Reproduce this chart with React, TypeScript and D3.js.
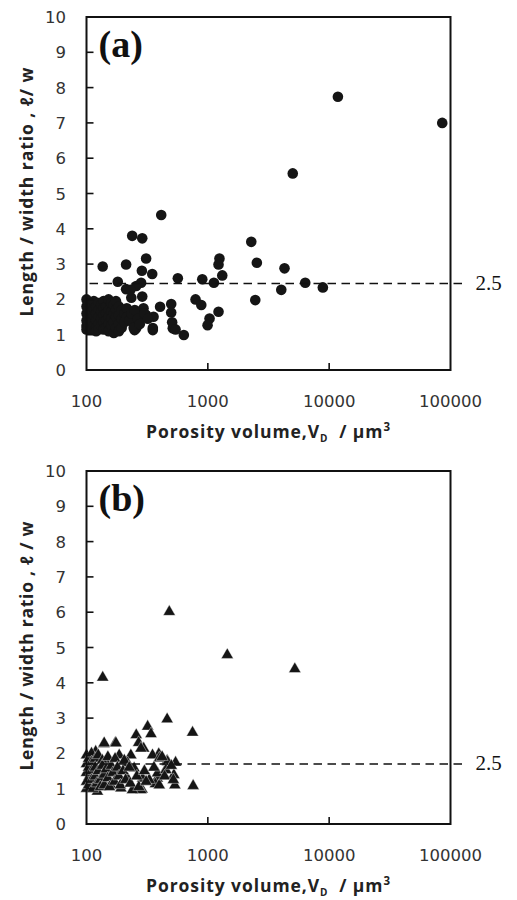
import React from "react";
import * as d3 from "d3";

// ---- Data ----
const xTicks = [100, 1000, 10000, 100000];
const yTicks = [0, 1, 2, 3, 4, 5, 6, 7, 8, 9, 10];
const panelLabels = ["(a)", "(b)"];
const thresholdY = [2.45, 1.7];
const thresholdLabel = "2.5";

// Panel (a): circles  [volume µm³, length/width ratio]
const pointsA: [number, number][] = [
  [11800, 7.74], [85500, 7.0], [5010, 5.57], [413, 4.39], [2280, 3.63], [2535, 3.04],
  [4285, 2.88], [4030, 2.27], [6350, 2.47], [8870, 2.34], [2460, 1.98],
  [1247, 3.16], [1225, 2.99], [1315, 2.68], [1122, 2.47], [900, 2.57], [1225, 1.65],
  [1033, 1.46], [995, 1.27], [792, 2.0], [883, 1.84], [566, 2.6], [634, 0.99],
  [514, 1.18], [508, 1.35], [499, 1.63], [499, 1.87], [542, 1.15], [404, 1.79],
  [352, 1.13], [357, 1.51], [310, 3.16], [288, 3.73], [238, 3.8], [348, 2.72],
  [286, 2.81], [212, 2.99], [136, 2.93], [181, 2.5], [282, 2.47], [257, 2.38],
  [212, 2.29], [234, 2.05], [288, 2.08], [295, 1.75], [257, 1.18], [310, 1.56],
  [230, 2.27], [352, 1.19], [310, 1.51], [263, 1.42], [249, 1.13], [270, 1.6],
  // dense cluster
  [100, 2.0], [100, 1.8], [100, 1.6], [100, 1.4], [100, 1.25], [100, 1.15],
  [105, 1.9], [105, 1.7], [105, 1.5], [105, 1.3], [105, 1.2],
  [110, 1.85], [110, 1.65], [110, 1.45], [110, 1.15], [110, 1.35],
  [115, 1.95], [115, 1.75], [115, 1.55], [115, 1.25],
  [120, 1.8], [120, 1.6], [120, 1.4], [120, 1.2], [120, 1.1],
  [126, 1.9], [126, 1.7], [126, 1.5], [126, 1.3], [126, 1.15],
  [132, 1.85], [132, 1.65], [132, 1.45], [132, 1.25],
  [138, 1.95], [138, 1.75], [138, 1.55], [138, 1.35], [138, 1.15],
  [145, 1.8], [145, 1.6], [145, 1.4], [145, 1.2],
  [152, 2.0], [152, 1.7], [152, 1.5], [152, 1.3], [152, 1.1],
  [160, 1.9], [160, 1.65], [160, 1.45], [160, 1.25],
  [168, 1.85], [168, 1.6], [168, 1.35], [168, 1.05],
  [175, 1.95], [175, 1.7], [175, 1.5], [175, 1.2],
  [185, 1.8], [185, 1.55], [185, 1.3], [185, 1.1],
  [195, 1.7], [195, 1.45], [195, 1.2],
  [205, 1.6], [205, 1.35], [215, 1.75], [215, 1.5], [225, 1.4],
  [235, 1.6], [245, 1.2], [250, 1.7], [265, 1.45], [275, 1.3], [300, 1.6], [320, 1.45],
];

// Panel (b): triangles
const pointsB: [number, number][] = [
  [481, 6.01], [1446, 4.79], [5210, 4.39], [136, 4.15], [462, 2.97], [748, 2.59],
  [319, 2.76], [340, 2.55], [257, 2.52], [269, 2.3], [296, 2.14], [173, 2.3],
  [139, 2.27], [757, 1.08], [535, 1.1], [542, 1.74], [462, 1.79], [394, 1.98],
  [525, 1.39], [448, 1.53], [380, 1.15], [383, 1.29], [370, 1.13], [287, 0.98],
  [140, 2.29], [175, 2.29], [281, 2.14], [350, 1.95], [186, 1.95], [232, 1.95],
  [119, 2.05], [108, 1.91], [398, 1.86], [466, 1.76], [218, 1.73], [149, 1.76],
  [247, 1.58], [385, 1.44], [451, 1.53], [329, 1.25], [398, 1.1], [281, 0.96],
  [239, 0.96], [192, 1.01], [158, 1.1], [123, 0.92], [112, 1.06], [135, 1.25],
  [105, 1.34], [175, 1.44], [218, 1.29], [290, 1.29], [119, 1.53],
  // dense cluster
  [100, 1.95], [100, 1.7], [100, 1.45], [100, 1.2], [100, 1.0], [104, 1.85],
  [104, 1.6], [104, 1.1], [110, 2.0], [110, 1.75], [110, 1.5], [110, 1.25],
  [113, 1.0], [118, 1.85], [118, 1.6], [118, 1.35], [122, 1.15], [125, 1.95],
  [125, 1.5], [130, 1.25], [130, 1.05], [135, 1.8], [135, 1.65], [140, 1.4],
  [140, 1.1], [145, 1.55], [150, 1.9], [150, 1.3], [155, 1.05], [160, 1.65],
  [165, 1.45], [170, 1.2], [172, 1.85], [180, 1.6], [185, 1.35], [190, 1.1],
  [200, 1.5], [205, 1.8], [210, 1.25], [225, 1.6], [230, 1.15], [260, 1.35],
  [270, 1.05], [300, 1.5], [310, 1.2], [360, 1.6], [420, 1.9], [440, 1.35],
  [500, 1.65], [520, 1.25],
];

const W = 517;
const H = 900;
const panelTops = [17, 471];
const plotLeft = 86.5;
const plotRight = 450.5;
const plotH = 353;

const tickFont = "'DejaVu Sans', sans-serif";
const titleFont = "'Open Sans', 'DejaVu Sans', sans-serif";

function Panel({ idx, points, shape }: { idx: number; points: [number, number][]; shape: "circle" | "triangle" }) {
  const top = panelTops[idx];
  const bottom = top + plotH;
  const x = d3.scaleLog().domain([100, 100000]).range([plotLeft, plotRight]);
  const y = d3.scaleLinear().domain([0, 10]).range([bottom, top]);
  const tri = d3.symbol().type(d3.symbolTriangle).size(64)();
  const ty = y(thresholdY[idx]);
  const midY = (top + bottom) / 2 - 1;
  return (
    <g>
      {points.map((p, i) =>
        shape === "circle" ? (
          <circle key={i} cx={x(p[0])} cy={y(p[1])} r={5.3} fill="#151515" />
        ) : (
          <path key={i} d={tri || ""} transform={`translate(${x(p[0])},${y(p[1])})`} fill="#151515" stroke="#fff" strokeWidth={0.4} />
        )
      )}
      <line x1={plotLeft + 3} x2={plotRight + 17} y1={ty} y2={ty} stroke="#111" strokeWidth={1.6} strokeDasharray="8.5,5.5" />
      <text x={plotRight + 25} y={ty + 6} fontFamily="'Liberation Serif', serif" fontSize={21} fill="#111">{thresholdLabel}</text>
      <rect x={plotLeft} y={top} width={plotRight - plotLeft} height={plotH} fill="none" stroke="#111" strokeWidth={2} />
      {yTicks.map((t) => (
        <g key={t}>
          {t > 0 && t < 10 && <line x1={plotLeft} x2={plotLeft + 7} y1={y(t)} y2={y(t)} stroke="#111" strokeWidth={1.6} />}
          <text x={66} y={y(t) + 6} textAnchor="end" fontFamily={tickFont} fontSize={16.5} fill="#333">{t}</text>
        </g>
      ))}
      {xTicks.map((t) => (
        <g key={t}>
          {t > 100 && t < 100000 && <line x1={x(t)} x2={x(t)} y1={bottom} y2={bottom - 7} stroke="#111" strokeWidth={1.6} />}
          <text x={x(t)} y={bottom + 37} textAnchor="middle" fontFamily={tickFont} fontSize={16.5} fill="#333">{t}</text>
        </g>
      ))}
      <text x={plotLeft + 12} y={top + 40} fontFamily="'Liberation Serif', serif" fontWeight="bold" fontSize={38} fill="#111">{panelLabels[idx]}</text>
      <text x={146} y={bottom + 68} textLength={244} lengthAdjust="spacing" fontFamily={titleFont} fontWeight="bold" fontSize={17.5} fill="#222">
        Porosity volume,V<tspan fontSize={10} dy={4}>D</tspan><tspan dy={-4}>{"\u00a0\u00a0/ μm"}</tspan><tspan fontSize={11.5} dy={-7}>3</tspan>
      </text>
      <text transform={`translate(33,${midY + 124}) rotate(-90)`} textLength={249} lengthAdjust="spacing" fontFamily={titleFont} fontWeight="bold" fontSize={17.5} fill="#222">
        {idx === 0 ? "Length / width ratio , ℓ/ w" : "Length / width ratio , ℓ / w"}
      </text>
    </g>
  );
}

export default function App() {
  return (
    <svg width={W} height={H} style={{ position: "absolute", left: 0, top: 0, background: "#fff" }}>
      <rect width={W} height={H} fill="#fff" />
      <Panel idx={0} points={pointsA} shape="circle" />
      <Panel idx={1} points={pointsB} shape="triangle" />
    </svg>
  );
}
